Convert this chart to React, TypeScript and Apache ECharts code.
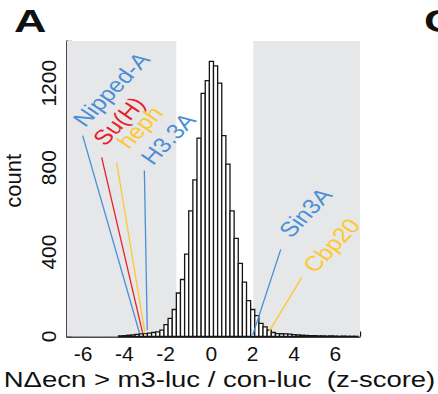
import React, { useEffect, useRef } from "react";
import * as echarts from "echarts";

// histogram bins (z-score centres) and counts
const binCenters = [
  -4.4, -4.2, -4.0, -3.8, -3.6, -3.4, -3.2, -3.0, -2.8, -2.6, -2.4, -2.2, -2.0, -1.8, -1.6, -1.4, -1.2, -1.0,
  -0.8, -0.6, -0.4, -0.2, 0.0, 0.2, 0.4, 0.6, 0.8, 1.0, 1.2, 1.4, 1.6, 1.8, 2.0, 2.2, 2.4, 2.6, 2.8, 3.0,
  3.2, 3.4, 3.6, 3.8, 4.0, 4.2, 4.4, 4.6, 4.8, 5.0, 5.2, 5.4, 5.6, 5.8, 6.0, 6.2, 6.4, 6.6, 6.8, 7.0,
];
const counts = [
  3, 4, 6, 8, 10, 12, 14, 16, 19, 22, 30, 56, 86, 128, 206, 270, 390, 595,
  742, 940, 1152, 1212, 1303, 1282, 1200, 952, 817, 595, 465, 346, 258, 170, 128, 99, 62, 46, 30, 19,
  14, 13, 12, 11, 9, 8, 6, 5, 4, 4, 3, 3, 2, 3, 2, 1, 2, 1, 1, 1,
];
const BIN_WIDTH = 0.2;

// shaded tails (z-score ranges)
const shadedRanges = [
  [-7, -1.7],
  [2.03, 7.2],
];

// highlighted genes: label, z-score at the line foot, count at the foot, line top (z, count)
const geneNames = ["Nipped-A", "Su(H)", "heph", "H3.3A", "Sin3A", "Cbp20"];
const geneFootZ = [-3.49, -3.33, -3.22, -3.11, 2.0, 2.79];
const geneFootCount = [18, 15, 15, 30, 7, 23];
const geneTopZ = [-6.24, -5.32, -4.59, -3.25, 3.36, 4.38];
const geneTopCount = [952, 849, 823, 786, 413, 280];

const BLUE = "#4a8fd6";
const RED = "#e8202a";
const YELLOW = "#fdc82f";
const geneColors = [BLUE, RED, YELLOW, BLUE, BLUE, YELLOW];
// label anchors (pixels, layout only)
const labelPos = [
  [88, 130],
  [108, 149],
  [132, 152],
  [156, 168],
  [294, 241],
  [318, 276],
];

const FONT = "Liberation Sans, Arial, Helvetica, sans-serif";

export default function App() {
  const ref = useRef<HTMLDivElement>(null);

  useEffect(() => {
    if (!ref.current) return;
    const chart = echarts.init(ref.current, null, { renderer: "svg" });

    const histData = binCenters.map((c, i) => [c, counts[i]]);

    const option: any = {
      animation: false,
      backgroundColor: "#ffffff",
      textStyle: { fontFamily: FONT },
      grid: {
        left: 67,
        right: 78,
        top: 41,
        bottom: 57.5,
        containLabel: false,
        outerBoundsMode: "none",
      },
      xAxis: {
        type: "value",
        min: -7,
        max: 7.2,
        interval: 1,
        splitLine: { show: false },
        axisLine: { show: true, onZero: false, lineStyle: { color: "#111", width: 1.5 } },
        axisTick: { show: true, inside: true, length: 5, lineStyle: { color: "#111", width: 1.3 } },
        axisLabel: {
          show: true,
          margin: 6,
          fontSize: 21,
          color: "#111",
          fontFamily: FONT,
          showMinLabel: true,
          showMaxLabel: true,
          formatter: (v: number) => {
            if (Math.abs(v - Math.round(v)) > 1e-6) return "";
            const r = Math.round(v);
            if (r % 2 !== 0) return "";
            return r < 0 ? `{n|${r}}` : `${r}`;
          },
          rich: {
            n: { fontSize: 21, color: "#111", fontFamily: FONT, padding: [0, 9, 0, 0] },
          },
        },
      },
      yAxis: {
        type: "value",
        min: 0,
        max: 1400,
        interval: 200,
        name: "count",
        nameLocation: "middle",
        nameGap: 43,
        nameRotate: 90,
        nameTextStyle: { fontSize: 22, color: "#111", fontFamily: FONT, padding: [0, 0, 0, 16] },
        splitLine: { show: false },
        axisLine: { show: true, onZero: false, lineStyle: { color: "#111", width: 1.5 } },
        axisTick: { show: true, inside: true, length: 5, lineStyle: { color: "#111", width: 1.3 } },
        axisLabel: {
          rotate: 90,
          margin: 8,
          fontSize: 21,
          color: "#111",
          fontFamily: FONT,
          formatter: (v: number) => (v % 400 === 0 && v < 1400 ? String(v) : ""),
        },
      },
      series: [
        {
          type: "custom",
          name: "hist",
          silent: true,
          z: 3,
          data: histData,
          encode: { x: 0, y: 1 },
          renderItem: (params: any, api: any) => {
            const x = api.value(0);
            const y = api.value(1);
            const p1 = api.coord([x - BIN_WIDTH / 2, y]);
            const p2 = api.coord([x + BIN_WIDTH / 2, 0]);
            return {
              type: "rect",
              shape: { x: p1[0], y: p1[1], width: p2[0] - p1[0], height: p2[1] - p1[1] },
              style: { fill: "#ffffff", stroke: "#151515", lineWidth: 1.3 },
            };
          },
          markArea: {
            silent: true,
            z: 1,
            itemStyle: { color: "#e6e7e9" },
            data: shadedRanges.map((r) => [{ xAxis: r[0] }, { xAxis: r[1] }]),
          },
        },
        {
          type: "lines",
          coordinateSystem: "cartesian2d",
          silent: true,
          z: 5,
          lineStyle: { width: 1.3, opacity: 1 },
          data: geneNames.map((g, i) => ({
            name: g,
            coords: [
              [geneTopZ[i], geneTopCount[i]],
              [geneFootZ[i], geneFootCount[i]],
            ],
            lineStyle: { color: geneColors[i], width: 1.3, opacity: 1 },
          })),
        },
      ],
      graphic: [
        ...geneNames.map((g, i) => ({
          type: "group",
          x: labelPos[i][0],
          y: labelPos[i][1],
          scaleX: 1.2,
          z: 10,
          silent: true,
          children: [
            {
              type: "text",
              x: 0,
              y: 0,
              z: 10,
              rotation: (51 * Math.PI) / 180,
              silent: true,
              style: {
                text: g,
                fill: geneColors[i],
                fontSize: 21,
                fontFamily: FONT,
                align: "left",
                verticalAlign: "bottom",
              },
            },
          ],
        })),
        {
          type: "text",
          x: 219.5,
          y: 390.5,
          scaleX: 1.25,
          z: 10,
          silent: true,
          style: {
            text: "N\u0394ecn > m3-luc / con-luc  (z-score)",
            fill: "#111",
            fontSize: 22,
            fontFamily: FONT,
            align: "center",
            verticalAlign: "bottom",
          },
        },
        {
          type: "text",
          x: 14,
          y: 36.7,
          scaleX: 1.45,
          z: 10,
          silent: true,
          style: {
            text: "A",
            fill: "#111",
            fontSize: 31,
            fontWeight: "bold",
            fontFamily: FONT,
            align: "left",
            verticalAlign: "bottom",
          },
        },
        {
          type: "text",
          x: 424,
          y: 36.7,
          scaleX: 1.45,
          z: 10,
          silent: true,
          style: {
            text: "C",
            fill: "#111",
            fontSize: 31,
            fontWeight: "bold",
            fontFamily: FONT,
            align: "left",
            verticalAlign: "bottom",
          },
        },
      ],
    };

    chart.setOption(option);
    return () => chart.dispose();
  }, []);

  return (
    <div
      ref={ref}
      style={{ position: "fixed", left: 0, top: 0, width: 438, height: 394, background: "#fff" }}
    />
  );
}
